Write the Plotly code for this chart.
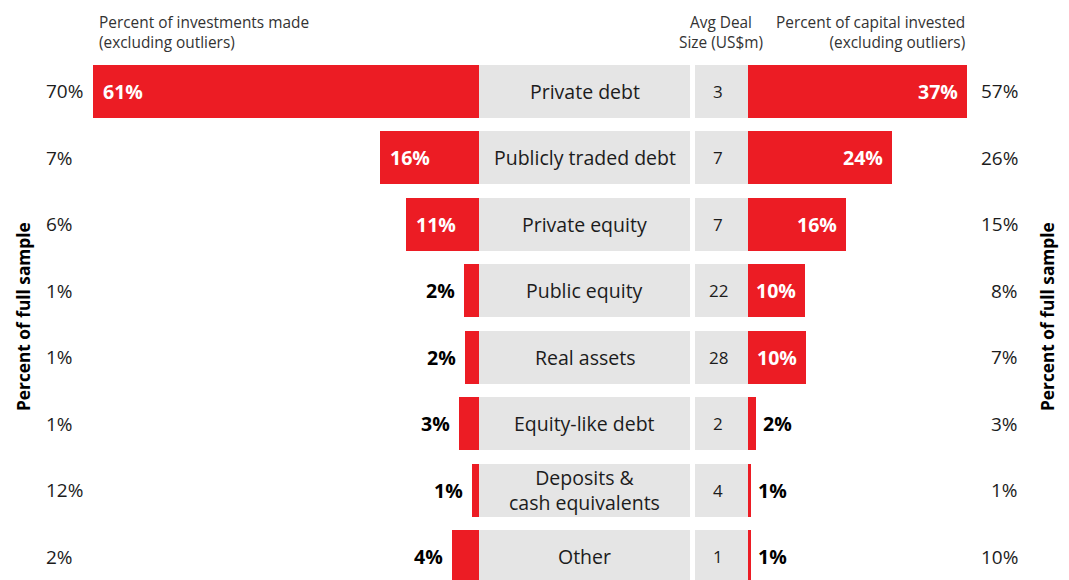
import plotly.graph_objects as go

# ---------------- data ----------------
categories = ["Private debt", "Publicly traded debt", "Private equity", "Public equity",
              "Real assets", "Equity-like debt", "Deposits &<br>cash equivalents", "Other"]
invest_pct_bar = [61.0, 15.6, 11.5, 2.4, 2.2, 3.2, 1.1, 4.3]       # bar lengths (est.)
invest_pct_label = ["61%", "16%", "11%", "2%", "2%", "3%", "1%", "4%"]
capital_pct_bar = [36.8, 24.15, 16.4, 9.6, 9.75, 1.35, 0.5, 0.5]   # bar lengths (est.)
capital_pct_label = ["37%", "24%", "16%", "10%", "10%", "2%", "1%", "1%"]
avg_deal_size = ["3", "7", "7", "22", "28", "2", "4", "1"]
full_sample_left = ["70%", "7%", "6%", "1%", "1%", "1%", "12%", "2%"]
full_sample_right = ["57%", "26%", "15%", "8%", "7%", "3%", "1%", "10%"]

# ---------------- style ----------------
OFF = 8                      # page body margin
W, H = 1069 - OFF, 580 - OFF
RED = "#EC1C24"
GRAY = "#E5E5E5"
TXT = "#1c1c1c"
FONT = "Open Sans"


def px(v):
    return v - OFF


row_pitch = 66.5
first_center = px(91)
bar_h = 53 / row_pitch
y_top = -first_center / row_pitch
y_bot = (H - first_center) / row_pitch

left_end_px, gray_start_px, gray_end_px = 0, px(479), px(690)
deal_start_px, deal_end_px = px(695), px(748)
right_end_px = W
left_scale = 6.33    # px per percent
right_scale = 5.95   # px per percent

rows = list(range(len(categories)))

fig = go.Figure()

fig.add_trace(go.Bar(y=rows, x=invest_pct_bar, orientation="h", width=bar_h,
                     marker=dict(color=RED, line=dict(width=0)),
                     xaxis="x", yaxis="y", hoverinfo="skip"))
fig.add_trace(go.Bar(y=rows, x=[1] * len(rows), orientation="h", width=bar_h,
                     marker=dict(color=GRAY, line=dict(width=0)),
                     xaxis="x2", yaxis="y", hoverinfo="skip"))
fig.add_trace(go.Bar(y=rows, x=[1] * len(rows), orientation="h", width=bar_h,
                     marker=dict(color=GRAY, line=dict(width=0)),
                     xaxis="x3", yaxis="y", hoverinfo="skip"))
fig.add_trace(go.Bar(y=rows, x=capital_pct_bar, orientation="h", width=bar_h,
                     marker=dict(color=RED, line=dict(width=0)),
                     xaxis="x4", yaxis="y", hoverinfo="skip"))

LBL = 19.5
ann = []
for i in rows:
    lv = int(invest_pct_label[i].rstrip("%"))
    if lv >= 10:
        ann.append(dict(x=invest_pct_bar[i], y=i, xref="x", yref="y", text=f"<b>{invest_pct_label[i]}</b>",
                        xanchor="left", xshift=8, showarrow=False,
                        font=dict(family=FONT, size=LBL, color="white")))
    else:
        ann.append(dict(x=invest_pct_bar[i], y=i, xref="x", yref="y", text=f"<b>{invest_pct_label[i]}</b>",
                        xanchor="right", xshift=-7, showarrow=False,
                        font=dict(family=FONT, size=LBL, color="black")))
    rv = int(capital_pct_label[i].rstrip("%"))
    if rv >= 10:
        ann.append(dict(x=capital_pct_bar[i], y=i, xref="x4", yref="y", text=f"<b>{capital_pct_label[i]}</b>",
                        xanchor="right", xshift=-7, showarrow=False,
                        font=dict(family=FONT, size=LBL, color="white")))
    else:
        ann.append(dict(x=capital_pct_bar[i], y=i, xref="x4", yref="y", text=f"<b>{capital_pct_label[i]}</b>",
                        xanchor="left", xshift=5, showarrow=False,
                        font=dict(family=FONT, size=LBL, color="black")))
    ann.append(dict(x=0.5, y=i, xref="x2", yref="y", text=categories[i], showarrow=False,
                    xanchor="center", font=dict(family=FONT, size=19.5, color=TXT)))
    ann.append(dict(x=0.44, y=i, xref="x3", yref="y", text=avg_deal_size[i], showarrow=False,
                    xanchor="center", font=dict(family=FONT, size=17, color=TXT)))
    ann.append(dict(x=px(44) / W, y=i, xref="paper", yref="y", text=full_sample_left[i], showarrow=False,
                    xanchor="left", font=dict(family=FONT, size=19, color=TXT)))
    ann.append(dict(x=px(1020) / W, y=i, xref="paper", yref="y", text=full_sample_right[i], showarrow=False,
                    xanchor="right", font=dict(family=FONT, size=19, color=TXT)))

HDR = 15.4
ann.append(dict(x=px(97) / W, y=1 - px(10) / H, xref="paper", yref="paper", yanchor="top", xanchor="left",
                align="left", showarrow=False,
                text="Percent of investments made<br>(excluding outliers)",
                font=dict(family=FONT, size=HDR, color="#333")))
ann.append(dict(x=px(721) / W, y=1 - px(10) / H, xref="paper", yref="paper", yanchor="top", xanchor="center",
                align="center", showarrow=False,
                text="Avg Deal<br>Size (US$m)",
                font=dict(family=FONT, size=HDR, color="#333")))
ann.append(dict(x=px(967) / W, y=1 - px(10) / H, xref="paper", yref="paper", yanchor="top", xanchor="right",
                align="right", showarrow=False,
                text="Percent of capital invested<br>(excluding outliers)",
                font=dict(family=FONT, size=HDR, color="#333")))
for xp in (23, 1047):
    ann.append(dict(x=px(xp) / W, y=1 - px(317) / H, xref="paper", yref="paper", xanchor="center",
                    yanchor="middle", textangle=-90, showarrow=False,
                    text="<b>Percent of full sample</b>",
                    font=dict(family=FONT, size=17.3, color="black")))

ax_common = dict(showgrid=False, zeroline=False, showticklabels=False, showline=False,
                 ticks="", fixedrange=True, anchor="y")

fig.update_layout(
    width=W, height=H,
    margin=dict(l=0, r=0, t=0, b=0),
    paper_bgcolor="white", plot_bgcolor="white",
    showlegend=False, bargap=0,
    xaxis=dict(domain=[left_end_px / W, gray_start_px / W],
               range=[(gray_start_px - left_end_px) / left_scale, 0], **ax_common),
    xaxis2=dict(domain=[gray_start_px / W, gray_end_px / W], range=[0, 1], **ax_common),
    xaxis3=dict(domain=[deal_start_px / W, deal_end_px / W], range=[0, 1], **ax_common),
    xaxis4=dict(domain=[deal_end_px / W, right_end_px / W],
                range=[0, (right_end_px - deal_end_px) / right_scale], **ax_common),
    yaxis=dict(range=[y_bot, y_top], showgrid=False, zeroline=False, showticklabels=False,
               showline=False, ticks="", fixedrange=True, domain=[0, 1]),
    annotations=ann,
)

fig.write_html("out.html")
